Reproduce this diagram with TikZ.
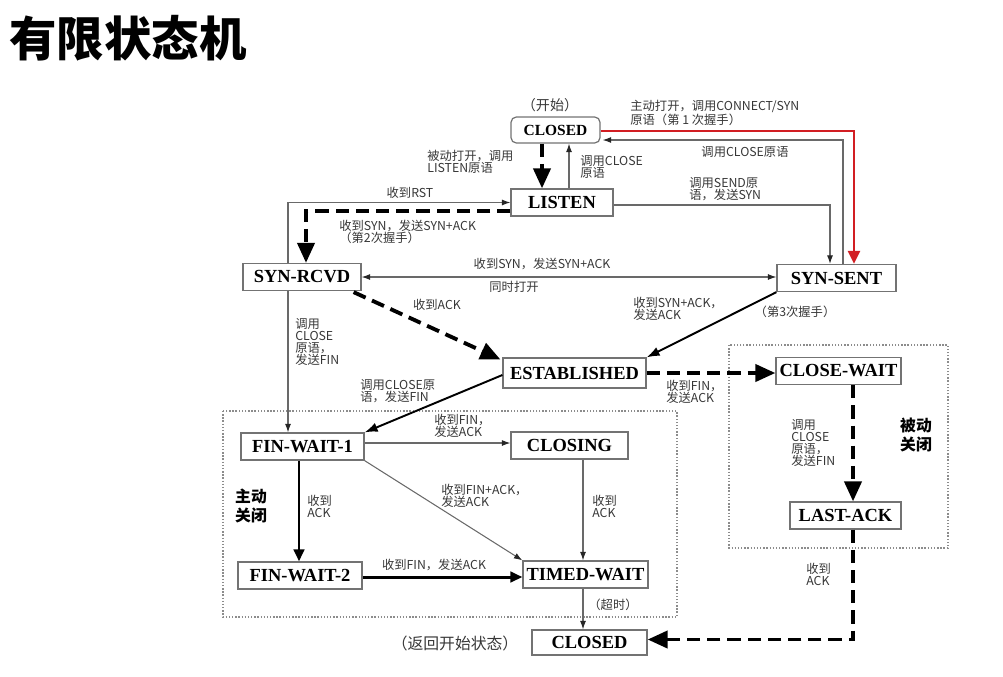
\documentclass[tikz,border=0pt]{standalone}
\usepackage{fontspec}
\setmainfont{Liberation Serif}
\newfontfamily\cjk{Noto Sans CJK SC}
\usepackage{tikz}
\usetikzlibrary{arrows.meta,calc,positioning}
\definecolor{boxgray}{RGB}{115,115,115}
\definecolor{linegray}{RGB}{105,105,105}
\definecolor{labelgray}{RGB}{55,55,55}
\definecolor{framegray}{RGB}{140,140,140}
\definecolor{openred}{RGB}{210,30,35}
\tikzset{
  stbox/.style={draw=boxgray, line width=0.7pt, fill=white,
                minimum height=0.54cm, inner sep=0pt,
                font=\fontsize{10.5}{12}\selectfont\bfseries},
  lab/.style={font=\cjk\fontsize{7}{6.9}\selectfont, text=labelgray,
              inner sep=0pt, align=left},
  sidelab/.style={font=\cjk\bfseries\fontsize{9}{10.5}\selectfont,
                  inner sep=0pt, align=left},
  frame/.style={draw=framegray, line width=0.8pt, densely dotted},
  thinflow/.style={draw=linegray, line width=0.6pt,
                   -{Latex[length=1.7mm,width=1.2mm,color=black!85]}},
  bothflow/.style={draw=linegray, line width=0.6pt,
                   {Latex[length=1.7mm,width=1.2mm,color=black!85]}-{Latex[length=1.7mm,width=1.2mm,color=black!85]}},
  midflow/.style={black, line width=1.1pt, -{Latex[length=2.6mm,width=1.9mm]}},
  heavyflow/.style={black, line width=1.7pt, -{Triangle[length=2.4mm,width=2.1mm]}},
  dashflow/.style={black, line width=2.2pt, dash pattern=on 7.5pt off 4pt,
                   -{Triangle[length=4mm,width=3.4mm]}},
  redflow/.style={draw=openred, line width=1.5pt,
                  -{Triangle[length=2.6mm,width=2.4mm,color=openred]}},
}
\begin{document}
\begin{tikzpicture}[x=0.02cm,y=-0.02cm]
  \path[use as bounding box] (0,0) rectangle (1003,676);

  \node[font=\cjk\bfseries\fontsize{27}{30}\selectfont, anchor=west, inner sep=0pt]
    (title) at (9,38) {有限状态机};

  % dotted frames round the two ways of closing
  \draw[frame] (223,411) rectangle (677,617);
  \draw[frame] (729,345) rectangle (948,548);

  % states
  \node[stbox, rounded corners=3pt, minimum width=1.78cm, minimum height=0.52cm,
        font=\fontsize{8.8}{10}\selectfont\bfseries] (ctop) at (555.5,130) {CLOSED};
  \node[stbox, minimum width=2.04cm] (listen) at (562,202.5) {LISTEN};
  \node[stbox, minimum width=2.36cm] (rcvd) at (302,277) {SYN-RCVD};
  \node[stbox, minimum width=2.38cm] (sent) at (836.5,278) {SYN-SENT};
  \node[stbox, minimum width=2.86cm, minimum height=0.6cm] (est) at (574.5,373) {ESTABLISHED};
  \node[stbox, minimum width=2.5cm] (cwait) at (838.5,371) {CLOSE-WAIT};
  \node[stbox, minimum width=2.46cm] (fw1) at (302.5,446.5) {FIN-WAIT-1};
  \node[stbox, minimum width=2.34cm] (closing) at (569.5,445.5) {CLOSING};
  \node[stbox, minimum width=2.22cm] (lack) at (845.5,515.5) {LAST-ACK};
  \node[stbox, minimum width=2.48cm] (fw2) at (300,575.5) {FIN-WAIT-2};
  \node[stbox, minimum width=2.5cm] (tw) at (585.5,574.5) {TIMED-WAIT};
  \node[stbox, minimum width=2.3cm, minimum height=0.5cm] (cbot) at (589.5,642.5) {CLOSED};

  % opening
  \draw[dashflow] ($(ctop.south)+(-13.5,0)$) coordinate (c1) -- (c1 |- listen.north);
  \draw[thinflow] ($(listen.north)+(7,0)$) coordinate (c2) -- (c2 |- ctop.south);
  \draw[redflow] ($(ctop.east)+(0,1)$) -| ($(sent.north)+(17.5,0)$);
  \draw[thinflow] ($(sent.north)+(6.5,0)$) |- ($(ctop.east)+(2,10)$);
  \draw[thinflow] ($(listen.east)+(0,2.5)$) -| ($(sent.north)+(-6.5,0)$);
  \draw[thinflow] ($(rcvd.north)+(-14,0)$) |- (listen.west);
  \draw[dashflow] ($(listen.west)+(0,8.5)$) -| ($(rcvd.north)+(4,0)$);
  \draw[bothflow] (rcvd.east) -- (rcvd.east -| sent.west);
  \draw[dashflow] ($(rcvd.south east)+(-8,1)$) -- ($(est.north west)+(-2,2)$);
  \draw[midflow] (sent.south west) -- (est.north east);

  % closing
  \draw[thinflow] ($(rcvd.south)+(-14,0)$) coordinate (c3) -- (c3 |- fw1.north);
  \draw[midflow] ($(est.west)+(0,2)$) -- (fw1.north east);
  \draw[dashflow] (est.east) -- (est.east -| cwait.west);
  \draw[dashflow] ($(cwait.south)+(14.5,0)$) coordinate (c4) -- (c4 |- lack.north);
  \draw[dashflow] ($(lack.south)+(7.5,0)$) |- ($(cbot.east)+(0,-3)$);
  \draw[thinflow] ($(fw1.east)+(0,-3.5)$) coordinate (c5) -- (c5 -| closing.west);
  \draw[thinflow] (fw1.south east) -- (tw.north west);
  \draw[heavyflow] ($(fw1.south)+(-3.5,0)$) coordinate (c6) -- (c6 |- fw2.north);
  \draw[thinflow] ($(closing.south)+(13.5,0)$) coordinate (c7) -- (c7 |- tw.north);
  \draw[heavyflow] ($(fw2.east)+(0,1.5)$) coordinate (c8) -- (c8 -| tw.west);
  \draw[thinflow] ($(tw.south)+(-2.5,0)$) coordinate (c9) -- (c9 |- cbot.north);

  % transition labels
  \node[lab, font=\cjk\fontsize{8}{9}\selectfont] (lstart) at (550,105) {（开始）};
  \node[lab, anchor=west] (lconnect) at (630,113) {主动打开，调用CONNECT/SYN\\原语（第 1 次握手）};
  \node[lab] (lclose1) at (745,152) {调用CLOSE原语};
  \node[lab, anchor=west] (lpassive) at (427,162) {被动打开，调用\\LISTEN原语};
  \node[lab, anchor=west] (lclose2) at (580,167) {调用CLOSE\\原语};
  \node[lab, anchor=west] (lsend) at (689,189) {调用SEND原\\语，发送SYN};
  \node[lab] (lrst) at (410,193) {收到RST};
  \node[lab, anchor=west] (lsyn) at (339,232) {收到SYN，发送SYN+ACK\\（第2次握手）};
  \node[lab] (lsimul) at (542,264) {收到SYN，发送SYN+ACK};
  \node[lab] (lboth) at (514,287) {同时打开};
  \node[lab] (lgotack) at (437,305) {收到ACK};
  \node[lab, anchor=west] (lsynack) at (633,309) {收到SYN+ACK，\\发送ACK};
  \node[lab] (lthird) at (795,312) {（第3次握手）};
  \node[lab, anchor=west] (lfinrcvd) at (295,342) {调用\\CLOSE\\原语，\\发送FIN};
  \node[lab, anchor=west] (lfinest) at (360,391) {调用CLOSE原\\语，发送FIN};
  \node[lab, anchor=west] (lgotfin) at (666,392) {收到FIN，\\发送ACK};
  \node[lab, anchor=west] (lfincw) at (791,443) {调用\\CLOSE\\原语，\\发送FIN};
  \node[lab, anchor=west] (lackla) at (806,574) {收到\\ACK};
  \node[lab, anchor=west] (lfinfw) at (434,426) {收到FIN，\\发送ACK};
  \node[lab, anchor=west] (lfinack) at (441,496) {收到FIN+ACK，\\发送ACK};
  \node[lab, anchor=west] (lackfw) at (307,506) {收到\\ACK};
  \node[lab, anchor=west] (lackcl) at (592,506) {收到\\ACK};
  \node[lab] (lfinfw2) at (434,565) {收到FIN，发送ACK};
  \node[lab] (ltimeout) at (613,605) {（超时）};
  \node[lab, font=\cjk\fontsize{9}{10}\selectfont] (lreturn) at (455,643) {（返回开始状态）};

  % side labels
  \node[sidelab] (lactive) at (251,506) {主动\\关闭};
  \node[sidelab] (lpassclose) at (916,435) {被动\\关闭};
\end{tikzpicture}
\end{document}
